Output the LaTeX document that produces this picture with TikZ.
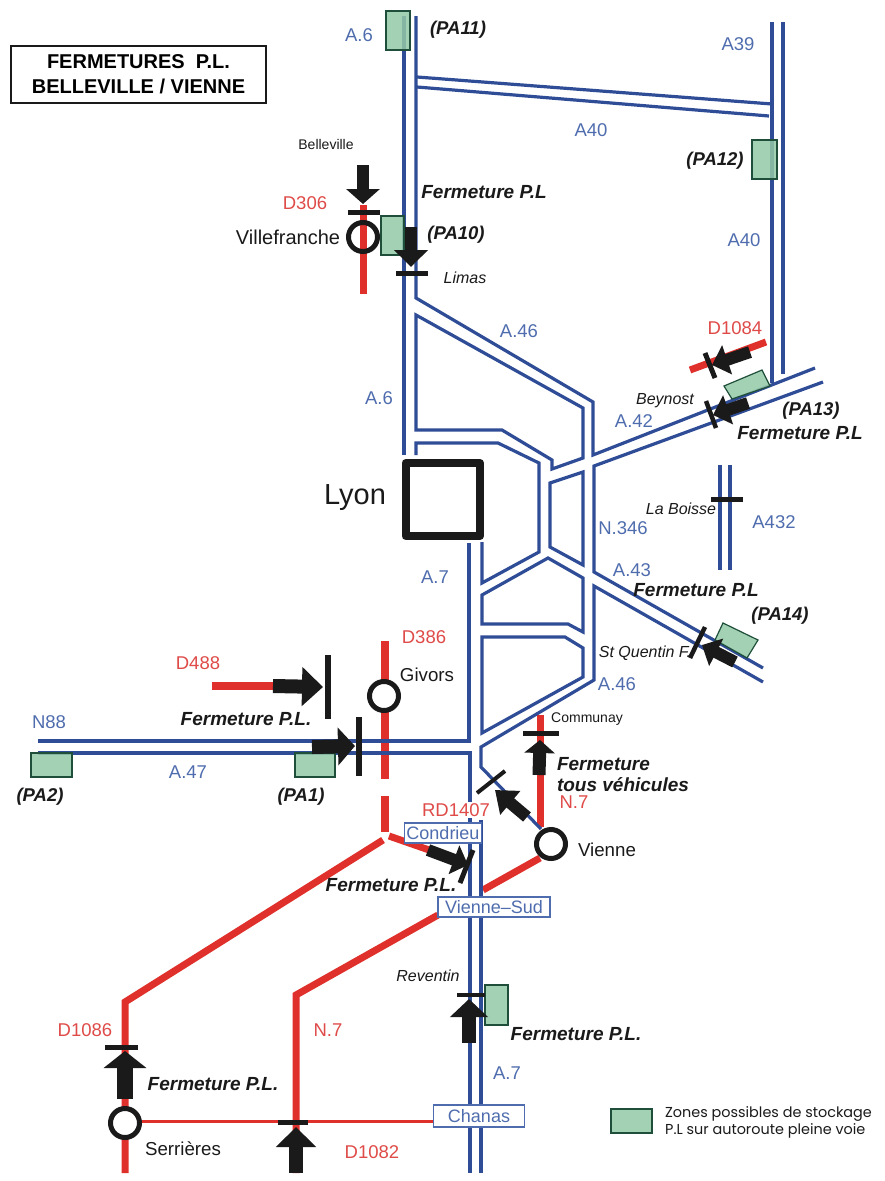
\documentclass[tikz,border=0pt]{standalone}
\usepackage{fontspec}
\setmainfont{Liberation Sans}
\newfontfamily\legendfont{Poppins}
\usetikzlibrary{arrows.meta}
\definecolor{roadblue}{HTML}{2F4C96}
\definecolor{labelblue}{HTML}{4F6DAE}
\definecolor{labelred}{HTML}{DF4B48}
\definecolor{roadred}{HTML}{E0302B}
\definecolor{stockgreen}{HTML}{93C9A6}
\definecolor{stockedge}{HTML}{1F4F3A}
\definecolor{ink}{HTML}{1A1A1A}
\newcommand{\fs}[1]{\fontsize{#1}{#1}\selectfont}
\tikzset{
  road/.style={draw=roadblue,line width=3.2pt,line join=miter},
  redroad/.style={draw=roadred,line width=7pt},
  stopbar/.style={draw=ink,line width=5pt},
  closure/.style args={#1/#2/#3}{draw=ink,line width=#1pt,-{Triangle[length=#2pt,width=#3pt]}},
  town/.style={draw=ink,line width=5pt},
  stock/.style={draw=stockedge,line width=1.2pt,fill=stockgreen,fill opacity=.85},
  bluelabel/.style={text=labelblue,font=\fs{18.5},inner sep=0pt},
  redlabel/.style={text=labelred,font=\fs{18.5},inner sep=0pt},
  closetext/.style={text=ink,font=\bfseries\itshape\fs{19},inner sep=0pt,align=left},
  patext/.style={text=ink,font=\bfseries\itshape\fs{18.5},inner sep=0pt},
  placetext/.style={text=ink,font=\fs{18.7},inner sep=0pt},
  smalltext/.style={text=ink,font=\itshape\fs{16},inner sep=0pt},
  signbox/.style={draw=labelblue,line width=1.2pt,fill=white,text=labelblue,font=\fs{18},inner sep=0pt,minimum height=20pt,align=center},
}
\begin{document}
\begin{tikzpicture}[x=1pt,y=-1pt]
\useasboundingbox (0,0) rectangle (885,1181);
\fill[white] (0,0) rectangle (885,1181);
% red roads below the motorways
\draw[redroad] (363,205) -- (363,294);
\draw[redroad,line width=8pt] (385,641) -- (385,779);
\draw[redroad,line width=8pt] (385,796) -- (385,832);
\draw[redroad] (383,840) -- (125,1002) -- (125,1173);
\draw[redroad] (389,836) -- (432,851);
\draw[redroad] (296,1173) -- (296,995) -- (438,915);
\draw[redroad] (483,890) -- (540,858);
\draw[redroad] (540,715) -- (540,827);
\draw[redroad] (690,370) -- (766,342);
\draw[redroad,line width=8pt] (212,686) -- (275,686);
\draw[draw=roadred,line width=3pt] (142,1121) -- (433,1121);
% motorways
\draw[road] (404,16) -- (404,455);
\draw[road] (416,16) -- (416,298) -- (593,402) -- (593,455) -- (815,368);
\draw[road] (417,77) -- (772,104);
\draw[road] (417,87) -- (769,116);
\draw[road] (772,22) -- (772,383);
\draw[road] (783,22) -- (783,374);
\draw[road] (823,382) -- (594,466) -- (594,572) -- (763,668);
\draw[road] (763,682) -- (594,586) -- (594,680) -- (481,747) -- (481,767) -- (541,829);
\draw[road] (416,315) -- (583,408) -- (583,458) -- (552,469) -- (552,460) -- (502,430) -- (416,430) -- cycle;
\draw[road] (416,455) -- (416,443) -- (498,443) -- (539,463) -- (539,552) -- (482,583) -- (482,542);
\draw[road] (550,483) -- (583,472) -- (583,565) -- (550,547) -- cycle;
\draw[road] (482,595) -- (548,558) -- (583,578) -- (583,632) -- (568,624) -- (482,624) -- cycle;
\draw[road] (482,637) -- (565,637) -- (583,648) -- (583,677) -- (482,733) -- cycle;
\draw[road] (469,543) -- (469,741) -- (38,741);
\draw[road] (38,753) -- (470,753) -- (470,1173);
\draw[road] (481,820) -- (481,1173);
\draw[road] (720,465) -- (720,570);
\draw[road] (730,465) -- (730,570);
% storage zones
\draw[stock] (386,11) rectangle (410,50);
\draw[stock] (381,216) rectangle (404,255);
\draw[stock] (752,140) rectangle (777,179);
\draw[stock] (724,386) -- (762,370) -- (770,386) -- (732,399) -- cycle;
\draw[stock] (723,623) -- (758,640) -- (747,658) -- (715,640) -- cycle;
\draw[stock] (295,753) rectangle (335,777);
\draw[stock] (31,753) rectangle (72,777);
\draw[stock] (485,985) rectangle (508,1025);
\draw[stock] (611,1109) rectangle (652,1133);
% Lyon
\draw[draw=ink,line width=8pt,line join=round,fill=white] (405.5,463) rectangle (480,536);
% towns
\draw[town] (363,237) circle (14.5);
\draw[town,fill=white] (384,696) circle (14.5);
\draw[town,fill=white] (551,844) circle (14.5);
\draw[town,fill=white] (125,1123) circle (14.5);
% closures
\draw[closure=12/15/33] (363,165) -- (363,204);
\draw[stopbar] (348,212) -- (380,212);
\draw[closure=12/17/33] (411,227) -- (411,267);
\draw[stopbar] (396,273) -- (428,273);
\draw[closure=12/16/30] (750,352) -- (712,365);
\draw[stopbar] (705,353) -- (715,378);
\draw[closure=12/16/30] (748,403) -- (713,415);
\draw[stopbar,line width=4.5pt] (706,401) -- (716,428);
\draw[stopbar] (711,499) -- (743,499);
\draw[closure=12/16/30] (735,662) -- (702,645);
\draw[stopbar,line width=4.5pt] (705,627) -- (690,658);
\draw[closure=14/21/38] (273,686) -- (323,687);
\draw[stopbar,line width=6pt] (328,655) -- (328,719);
\draw[closure=14/17/37] (312,747) -- (355,746);
\draw[stopbar,line width=6pt] (359,717) -- (359,776);
\draw[closure=12/15/30] (428,850) -- (468,865);
\draw[stopbar,line width=5pt] (473,850) -- (460,883);
\draw[closure=16/17/42] (125,1099) -- (125,1051);
\draw[stopbar] (105,1047) -- (138,1047);
\draw[closure=14/20/39] (296,1173) -- (296,1127);
\draw[stopbar] (278,1122) -- (308,1122);
\draw[closure=13/13/30] (539,775) -- (540,740);
\draw[stopbar] (523,733) -- (559,733);
\draw[closure=12/20/30] (527,817) -- (495,790);
\draw[stopbar,line width=4pt] (477,793) -- (505,771);
\draw[closure=14/18/37] (469,1043) -- (469,999);
\draw[stopbar,line width=4.5pt] (457,995) -- (485,995);
% title
\node[draw=ink,line width=1.3pt,minimum width=255pt,minimum height=57pt,align=center,font=\bfseries\fs{20},inner sep=0pt] (title) at (138.5,74.5) {FERMETURES\ \ P.L.\\[5pt]BELLEVILLE / VIENNE};
% motorway labels
\node[bluelabel] (a6a) at (359,35) {A.6};
\node[bluelabel] (a39) at (738,44) {A39};
\node[bluelabel] (a40a) at (591,130) {A40};
\node[bluelabel] (a40b) at (744,240) {A40};
\node[bluelabel] (a46a) at (519,331) {A.46};
\node[bluelabel] (a6b) at (379,398) {A.6};
\node[bluelabel] (a42) at (634,421) {A.42};
\node[bluelabel] (n346) at (623,528) {N.346};
\node[bluelabel] (a432) at (774,522) {A432};
\node[bluelabel] (a43) at (632,570) {A.43};
\node[bluelabel] (a7a) at (435,577) {A.7};
\node[bluelabel] (a46b) at (617,684) {A.46};
\node[bluelabel] (n88) at (49,722) {N88};
\node[bluelabel] (a47) at (188,772) {A.47};
\node[bluelabel] (a7b) at (507,1073) {A.7};
% red labels
\node[redlabel] (d306) at (305,203) {D306};
\node[redlabel] (d1084) at (735,328) {D1084};
\node[redlabel] (d386) at (424,637) {D386};
\node[redlabel] (d488) at (198,663) {D488};
\node[redlabel] (n7a) at (574,802) {N.7};
\node[redlabel,fill=white,inner sep=1pt] (rd1407) at (456,810) {RD1407};
\node[redlabel] (d1086) at (85,1030) {D1086};
\node[redlabel] (n7b) at (328,1030) {N.7};
\node[redlabel] (d1082) at (372,1152) {D1082};
% places
\node[placetext,font=\fs{14}] (belleville) at (326,144) {Belleville};
\node[placetext,font=\fs{20}] (villefranche) at (288,237) {Villefranche};
\node[placetext,font=\fs{29}] (lyon) at (355,498) {Lyon};
\node[placetext] (givors) at (427,675) {Givors};
\node[placetext,font=\fs{14}] (communay) at (587,719) {Communay};
\node[placetext] (vienne) at (607,850) {Vienne};
\node[placetext] (serrieres) at (183,1149) {Serrières};
\node[smalltext] (limas) at (465,278) {Limas};
\node[smalltext] (beynost) at (665,401) {Beynost};
\node[smalltext] (laboisse) at (681,509) {La Boisse};
\node[smalltext] (stquentin) at (645,653) {St Quentin F.};
\node[smalltext] (reventin) at (428,976) {Reventin};
% storage labels
\node[patext] (pa11) at (458,30) {(PA11)};
\node[patext] (pa12) at (715,161) {(PA12)};
\node[patext] (pa10) at (456,235) {(PA10)};
\node[patext] (pa13) at (811,411) {(PA13)};
\node[patext] (pa14) at (780,616) {(PA14)};
\node[patext] (pa2) at (40,797) {(PA2)};
\node[patext] (pa1) at (301,797) {(PA1)};
% closure labels
\node[closetext] (f1) at (484,192) {Fermeture P.L};
\node[closetext] (f2) at (800,433) {Fermeture P.L};
\node[closetext] (f3) at (696,590) {Fermeture P.L};
\node[closetext] (f4) at (246,719) {Fermeture P.L.};
\node[closetext] (f5) at (623,775) {Fermeture\\[2pt]tous véhicules};
\node[closetext] (f6) at (391,885) {Fermeture P.L.};
\node[closetext] (f7) at (576,1034) {Fermeture P.L.};
\node[closetext] (f8) at (213,1084) {Fermeture P.L.};
% sign boxes
\node[signbox,minimum width=77pt] (condrieu) at (443,833) {Condrieu};
\node[signbox,minimum width=112pt] (viennesud) at (494,907) {Vienne–Sud};
\node[signbox,minimum width=91pt,minimum height=22pt] (chanas) at (479,1116) {Chanas};
% legend
\node[anchor=west,text=ink,font=\legendfont\fs{14.4},inner sep=0pt,align=left] (legend) at (665,1122) {Zones possibles de stockage\\[1pt]P.L sur autoroute pleine voie};
\end{tikzpicture}
\end{document}
